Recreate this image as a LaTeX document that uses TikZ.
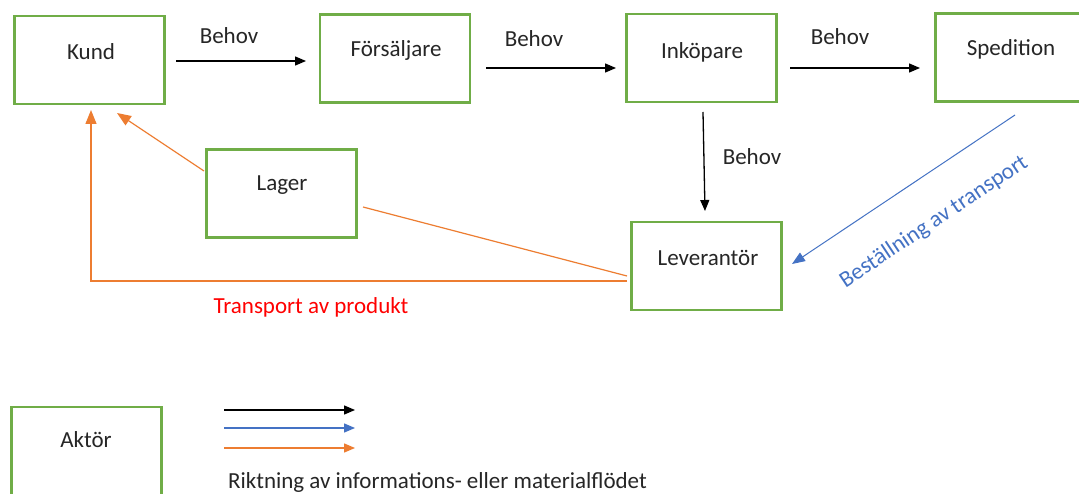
\documentclass[tikz,border=0pt]{standalone}
\usepackage{fontspec}
\setmainfont{Carlito}
\usetikzlibrary{arrows.meta}
\definecolor{boxgreen}{RGB}{112,173,71}
\definecolor{flowblue}{RGB}{68,114,196}
\definecolor{floworange}{RGB}{237,125,49}
\definecolor{txtred}{RGB}{255,0,0}
\begin{document}
\begin{tikzpicture}[x=1pt,y=-1pt,
  actor/.style={draw=boxgreen,line width=2.6pt,minimum width=150pt,minimum height=88pt,inner sep=0pt},
  lbl/.style={font=\fontsize{23}{27}\selectfont,text=black!85,inner sep=0pt},
  tip/.style={-{Triangle[length=11pt,width=9pt]}},
  bigtip/.style={-{Triangle[length=14pt,width=11pt]}},
  blackflow/.style={tip,draw=black,line width=1.3pt},
  blueflow/.style={tip,draw=flowblue,line width=1.3pt},
  orangeflow/.style={tip,draw=floworange,line width=1.3pt},
  orangeline/.style={draw=floworange,line width=1.3pt}]
\clip (0,0) rectangle (1079,494);
\fill[white] (0,0) rectangle (1079,494);
% actors
\node[actor] (kund) at (89.5,60) {};
\node[actor] (fors) at (395,58.5) {};
\node[actor] (inko) at (701.5,58) {};
\node[actor] (sped) at (1010.5,57.5) {};
\node[actor] (lager) at (281.5,193.5) {};
\node[actor] (lev) at (706.5,266) {};
\node[actor] (aktor) at (86.5,451) {};
% actor texts
\node[lbl] (tkund) at (91,52) {Kund};
\node[lbl] (tfors) at (396,50) {Försäljare};
\node[lbl] (tinko) at (702,52) {Inköpare};
\node[lbl] (tsped) at (1011,49) {Spedition};
\node[lbl] (tlager) at (282,185) {Lager};
\node[lbl] (tlev) at (708,258) {Leverantör};
\node[lbl] (taktor) at (86,440) {Aktör};
% coordinates for connector ends
\coordinate (a1s) at (176,61); \coordinate (a1e) at (306,61);
\coordinate (a2s) at (486,68); \coordinate (a2e) at (616,68);
\coordinate (a3s) at (790,68); \coordinate (a3e) at (920,68);
\coordinate (a4s) at (703,112); \coordinate (a4e) at (705,211);
\coordinate (bs) at (1015,115); \coordinate (be) at (792,264);
\coordinate (ls) at (204,171); \coordinate (le) at (117,113);
\coordinate (lvl) at (627,276); \coordinate (lgr) at (363,207);
\coordinate (lvk) at (627,281); \coordinate (corner) at (91,281); \coordinate (ke) at (91,110);
% black flows
\draw[blackflow] (a1s) -- (a1e);
\draw[blackflow] (a2s) -- (a2e);
\draw[blackflow] (a3s) -- (a3e);
\draw[blackflow] (a4s) -- (a4e);
\node[lbl] (b1) at (229,36) {Behov};
\node[lbl] (b2) at (534,39) {Behov};
\node[lbl] (b3) at (840,37) {Behov};
\node[lbl] (b4) at (752,157) {Behov};
% blue flow
\draw[blueflow,line width=1pt,-{Triangle[length=13pt,width=10pt]}] (bs) -- (be);
\node[lbl,text=flowblue,rotate=33.7] (best) at (934,222) {Beställning av transport};
% orange flows
\draw[orangeflow,bigtip,line width=1.2pt] (ls) -- (le);
\draw[orangeline,line width=1.2pt] (lvl) -- (lgr);
\draw[orangeflow,bigtip,line width=1.2pt] (lvk) -- (corner) -- (ke);
\node[lbl,text=txtred] (tap) at (311,307) {Transport av produkt};
% legend
\coordinate (l1s) at (224,410); \coordinate (l1e) at (355,410);
\coordinate (l2s) at (224,428); \coordinate (l2e) at (355,428);
\coordinate (l3s) at (224,448); \coordinate (l3e) at (355,448);
\draw[blackflow] (l1s) -- (l1e);
\draw[blueflow] (l2s) -- (l2e);
\draw[orangeflow] (l3s) -- (l3e);
\node[lbl,anchor=west] (legtxt) at (228,482) {Riktning av informations- eller materialflödet};
\end{tikzpicture}
\end{document}
